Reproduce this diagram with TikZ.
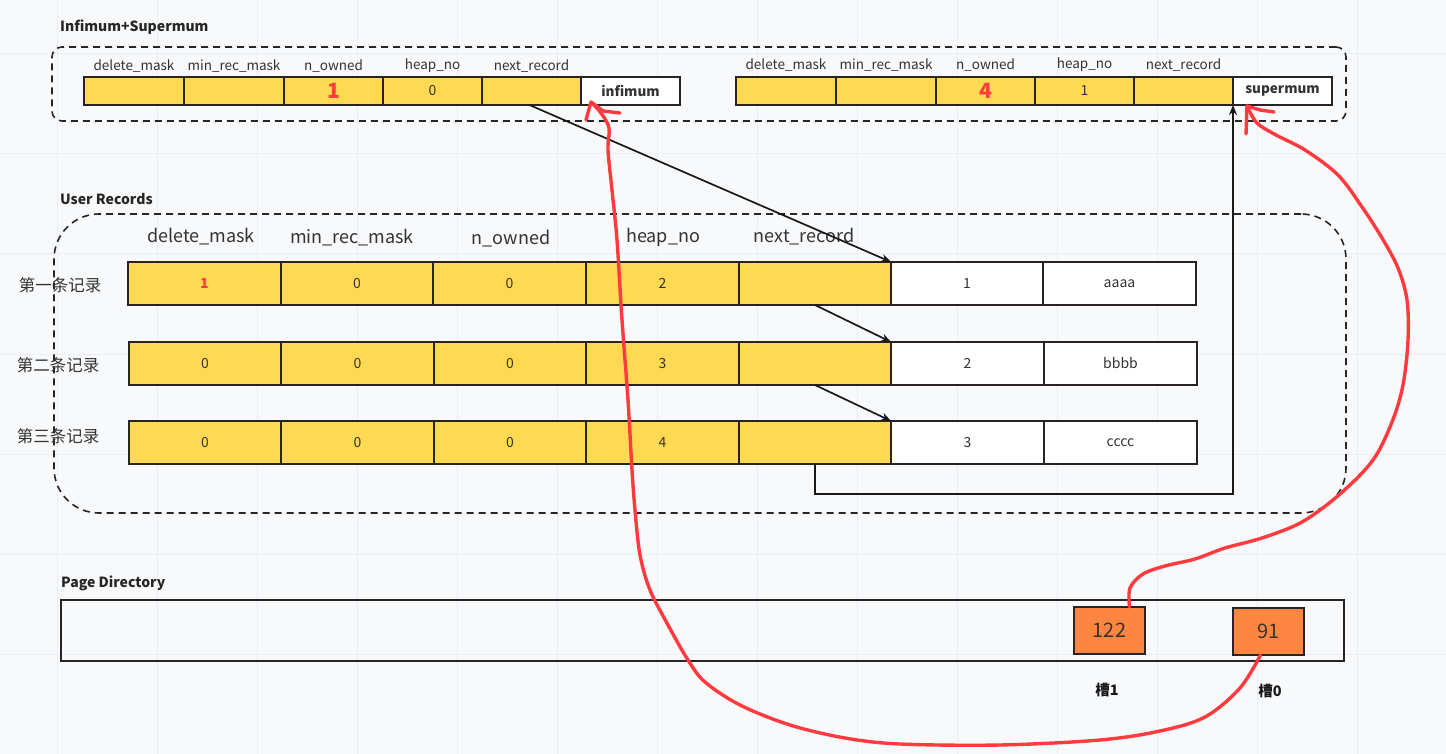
\documentclass[tikz,border=0pt]{standalone}
\usepackage{fontspec}
\setmainfont{Noto Sans CJK SC}
\usetikzlibrary{arrows.meta}
\definecolor{bg}{HTML}{F8F9FB}
\definecolor{gridc}{HTML}{ECEEF1}
\definecolor{yel}{HTML}{FFD952}
\definecolor{ora}{HTML}{FF8640}
\definecolor{edge}{HTML}{2A2326}
\definecolor{txt}{HTML}{333333}
\definecolor{redc}{HTML}{FF3B3F}
\newcommand\fs[1]{\fontsize{#1}{#1}\selectfont}
\begin{document}
\begin{tikzpicture}[x=1pt,y=-1pt,
  cellbase/.style={draw=edge, line width=2pt, inner sep=0pt, outer sep=0pt, anchor=north west, text=txt, font=\fs{14}},
  ycell/.style={cellbase, fill=yel},
  wcell/.style={cellbase, fill=white},
  toplabel/.style={text=txt, font=\fs{13.5}, inner sep=0pt},
  headlabel/.style={text=txt, font=\fs{18}, inner sep=0pt},
  rowlabel/.style={text=txt, font=\fs{16.5}, inner sep=0pt},
  title/.style={text=black!85, font=\bfseries\fs{14}, anchor=west, inner sep=0pt},
  dashbox/.style={draw=black!85, line width=1.6pt, dash pattern=on 7pt off 5pt, anchor=north west, inner sep=0pt, outer sep=0pt},
  blackarrow/.style={draw=black!90, line width=1.7pt, -{Stealth[length=10pt,width=8pt]}},
  redline/.style={draw=redc, line width=3.4pt, line cap=round, line join=round},
  slot/.style={draw=edge, line width=2pt, fill=ora, anchor=north west, inner sep=0pt, outer sep=0pt, text=txt, font=\fs{20}},
  slotlabel/.style={text=black!90, font=\bfseries\fs{14.5}, inner sep=0pt}
]
\fill[bg] (0,0) rectangle (1446,754);
\useasboundingbox (0,0) rectangle (1446,754);
\foreach \x in {57,157,...,1457} \draw[gridc, line width=1pt] (\x,0) -- (\x,754);
\foreach \y in {54,154,...,754} \draw[gridc, line width=1pt] (0,\y) -- (1446,\y);

% ---------- Infimum + Supermum ----------
\node[title] (t1) at (60,27) {Infimum+Supermum};
\node[dashbox, rounded corners=10pt, minimum width=1294pt, minimum height=74pt] (g1) at (52,47) {};

\foreach \n/\a/\b/\t in {1/84/184/{}, 2/184/284/{}, 3/284/383/{\textcolor{redc}{\bfseries\fs{21}1}}, 4/383/482/0, 5/482/581/{}}
  \node[ycell, minimum width={(\b-\a)*1pt}, minimum height=28pt] (tl\n) at (\a,77) {\t};
\node[wcell, minimum width=99pt, minimum height=28pt, font=\bfseries\fs{13.5}] (inf) at (581,77) {infimum};

\foreach \n/\a/\b/\t in {1/736/836/{}, 2/836/936/{}, 3/936/1035/{\textcolor{redc}{\bfseries\fs{21}4}}, 4/1035/1134/1, 5/1134/1233/{}}
  \node[ycell, minimum width={(\b-\a)*1pt}, minimum height=28pt] (tr\n) at (\a,77) {\t};
\node[wcell, minimum width=99pt, minimum height=28pt, font=\bfseries\fs{13.5}] (supm) at (1233,77) {supermum};

\foreach \c/\t in {1/delete\_mask, 2/min\_rec\_mask, 3/n\_owned, 4/heap\_no, 5/next\_record}{
  \node[toplabel] (tlh\c) at ([yshift=11pt]tl\c.north) {\t};
  \node[toplabel] (trh\c) at ([yshift=12pt]tr\c.north) {\t};
}

% ---------- User Records ----------
\node[title] (t2) at (60,199) {User Records};
\node[dashbox, rounded corners=45pt, minimum width=1292pt, minimum height=299pt] (g2) at (54,214) {};

\foreach \n/\a/\b/\t in {1/128/281/{\textcolor{redc}{\bfseries 1}}, 2/281/433/0, 3/433/586/0, 4/586/739/2, 5/739/891/{}}
  \node[ycell, minimum width={(\b-\a)*1pt}, minimum height=43pt] (ra\n) at (\a,262) {\t};
\node[wcell, minimum width=152pt, minimum height=43pt] (ra6) at (891,262) {1};
\node[wcell, minimum width=153pt, minimum height=43pt] (ra7) at (1043,262) {aaaa};

\foreach \n/\a/\b/\t in {1/129/281/0, 2/281/434/0, 3/434/586/0, 4/586/739/3, 5/739/891/{}}
  \node[ycell, minimum width={(\b-\a)*1pt}, minimum height=43pt] (rb\n) at (\a,342) {\t};
\node[wcell, minimum width=153pt, minimum height=43pt] (rb6) at (891,342) {2};
\node[wcell, minimum width=153pt, minimum height=43pt] (rb7) at (1044,342) {bbbb};

\foreach \n/\a/\b/\t in {1/129/281/0, 2/281/434/0, 3/434/586/0, 4/586/739/4, 5/739/891/{}}
  \node[ycell, minimum width={(\b-\a)*1pt}, minimum height=43pt] (rc\n) at (\a,421) {\t};
\node[wcell, minimum width=153pt, minimum height=43pt] (rc6) at (891,421) {3};
\node[wcell, minimum width=153pt, minimum height=43pt] (rc7) at (1044,421) {cccc};

\node[headlabel] (h1) at (201,237) {delete\_mask};
\node[headlabel] (h2) at (352,238) {min\_rec\_mask};
\node[headlabel] (h3) at (511,239) {n\_owned};
\node[headlabel] (h4) at (663,237) {heap\_no};
\node[headlabel] (h5) at (804,237) {next\_record};

\node[rowlabel] (l1) at (60,285) {第一条记录};
\node[rowlabel] (l2) at (58,365) {第二条记录};
\node[rowlabel] (l3) at (58,436) {第三条记录};

% ---------- next_record arrows ----------
\draw[blackarrow] ([xshift=-2pt]tl5.south) -- (ra6.north west);
\draw[blackarrow] (ra5.south) -- (rb6.north west);
\draw[blackarrow] (rb5.south) -- (rc6.north west);
\draw[blackarrow] (rc5.south) -- ++(0,30) -| (supm.south west);

% ---------- Page Directory ----------
\node[title] (t3) at (61,583) {Page Directory};
\node[draw=edge, line width=2pt, anchor=north west, minimum width=1283pt, minimum height=61pt, inner sep=0pt, outer sep=0pt] (pd) at (61,600) {};
\node[slot, minimum width=71pt, minimum height=47pt] (n122) at (1074,607) {122};
\node[slot, minimum width=71pt, minimum height=47pt] (n91) at (1233,608) {91};
\node[slotlabel] (s1) at (1107,690) {槽1};
\node[slotlabel] (s0) at (1270,691) {槽0};

% ---------- red hand-drawn pointers ----------
\coordinate (infend) at (591,102);
\coordinate (supend) at (1247,106);
\draw[redline] plot[smooth, tension=0.55] coordinates {([xshift=-8pt]n91.south) (1240,688) (1205,717) (1160,731) (1100,740) (1000,745) (900,744) (845,738) (790,725) (740,705) (705,682) (688,660) (668,625) (650,590) (640,555) (635,510) (632,470) (628,400) (622,320) (617,240) (612,190) (608,150) (609,128) (601,113) (infend)};
\draw[redline] (infend) ++(-5,18) -- (infend) -- ++(12,9) -- ++(17,2);
\draw[redline] plot[smooth, tension=0.55] coordinates {([xshift=20pt]n122.north) (1130,588) (1143,574) (1165,566) (1195,559) (1225,548) (1262,538) (1302,522) (1340,494) (1373,460) (1392,422) (1403,385) (1408,340) (1407,300) (1398,268) (1382,238) (1362,207) (1338,175) (1305,150) (1276,135) (1257,123) (supend)};
\draw[redline] (supend) ++(-1,28) -- (supend) -- ++(13,4) -- ++(14,2);
\end{tikzpicture}
\end{document}
